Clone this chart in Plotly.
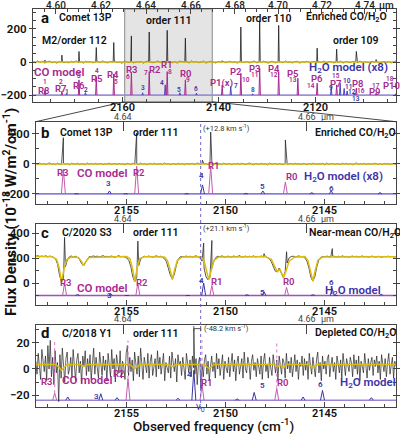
import numpy as np
import plotly.graph_objects as go

C_KMS = 299792.458

# ------------------------------------------------------------------ data
co_names = ["R8", "R7", "R6", "R5", "R4", "R3", "R2", "R1", "R0",
            "P1(x)", "P2", "P3", "P4", "P5", "P6", "P7", "P8", "P9", "P10"]
co_number = ["1", "2", "3", "4", "5", "6", "7", "8", "9", "",
             "10", "11", "12", "13", "14", "15", "16", "17", "18"]
co_rest = [2176.284, 2172.758, 2169.198, 2165.601, 2161.968, 2158.300,
           2154.596, 2150.856, 2147.081, 2139.426, 2135.547, 2131.632,
           2127.683, 2123.699, 2119.681, 2115.629, 2111.543, 2107.423,
           2103.270]
co_peak_a = [12, 42, 64, 88, 118, 158, 182, 192, 145, 8, 212, 248, 222, 0,
             84, 78, 64, 15, 8]
co_model_a = [32, 22, 92, 112, 128, 136, 142, 142, 92, 60, 132, 162, 142,
              102, 72, 62, 42, 12, 10]

h2o_a_label = ["1", "2", "3", "4", "5", "6", "7", "8", "9", "10", "11", "12", "13"]
h2o_a_rest = [2171.78, 2167.85, 2155.97, 2151.27, 2148.22, 2144.77, 2137.65,
              2133.10, 2116.76, 2114.90, 2114.07, 2113.45, 2111.99]
h2o_model_a = [10, 15, 14, 62, 14, 12, 52, 8, 46, 72, 40, 25, 10]

# order 111 window (panels b-d)
o111_co = ["R3", "R2", "R1", "R0"]
co_peak_b = [175, 207, 213, 160]
co_model_b = [165, 185, 185, 80]
co_peak_c = [365, 335, 340, 250]
co_model_c = [100, 100, 80, 65]
co_model_d = [5.5, 16.5, 12, 9]

o111_h2o_label = ["3", "4", "5", "6", "", "", "", "", "", ""]
o111_h2o_rest = [2155.97, 2151.27, 2148.22, 2144.77, 2157.64, 2155.15,
                 2152.07, 2149.08, 2145.75, 2142.30]
h2o_model_b = [20, 60, 20, 20, 3, 3, 3, 4, 9, 9]
h2o_model_c = [15, 100, 30, 55, 8, 3, 3, 6, 6, 10]
h2o_model_d = [5, 23, 6, 7.5, 2.5, 2, 1.5, 1, 2.5, 2]
h2o_peak_b = [0, 25, 0, 0, 0, 0, 0, 0, 0, 0]
h2o_peak_c = [0, 320, 235, 275, 0, 0, 0, 0, 0, 0]
h2o_peak_d = [0, 31, 0, 0, 0, 0, 0, 0, 0, 0]

velocity = {"a": 12.8, "b": 12.8, "c": 21.1, "d": -48.2}   # km/s
model_base = {"a": -200, "b": -200, "c": -100, "d": -24}

# axis tick labels
freq_ticks_a = [2160, 2140, 2120]
freq_ticks_111 = [2155, 2150, 2145]
um_a = [4.60, 4.62, 4.64, 4.66, 4.68, 4.70, 4.72, 4.74]
um_111 = [4.64, 4.66]

# measured spectra
span_a = [2178.7, 2103.2]
span_111 = [2159.6, 2141.4]
noise_a = [3, -5, 6, -2, 4, -7, 2, 5, -4, 1, -6, 3, 7, -3, 0, -5, 4, -2, 6, -4,
           2, -6, 5, -1, 3, -5, 1, 4, -3, 6, -2, -5, 3, 0, 5, -4, 2, -7, 4, 1,
           -3, 6, -5, 2, -1, 4, -6, 3, 5, -2, -4, 1, 6, -3, 2, -5, 4, 0, -4, 3,
           -6, 5, 2, -3, 1, -5, 6, -2, 3, -4, 0, 5, -6, 2, 4, -1, -5, 3, -2, 6,
           -4, 1, 5, -3, 2, -6, 4, 0, -2, 3, -5, 1, 6, -4, 2, -3, 5, -1, -6, 4,
           2, -5, 3, 0, -4, 6, -2, 1, -5, 3, 4, -6, 2, -1, 5, -3, 0, 4, -5, 2,
           -3, 6, -4, 1, 3, -5, 2, -2, 5, -6, 3, 1, -4, 4, -1, -5, 6, -3, 2, 0,
           -4, 5, -2, 3, -6, 1, 4, -3, 2, -5, 3, 1]
flux_b = [4, -3, 6, -1, 3, -5, 2, 7, -2, 1, -4, 5, 0, -3, 6, -2, 3, -6, 4, 1,
          -2, 5, -4, 2, 0, -5, 6, -1, 3, -3, 5, -2, 1, 4, -5, 2, -1, 6, -3, 0,
          3, -4, 5, -2, 1, -6, 4, 2, -3, 5, -1, 0, -4, 6, -2, 3, -5, 1, 4, -2,
          5, -3, 0, 2, -4, 6, -1, 3, -5, 2, 1, -3, 5, -2, 4, -6, 3, 0, -1, 5,
          -4, 2, 6, -3, 1, -2, 4, -5, 3, 0, -1, 5, -3, 2, -4, 6, -2, 1, 3, -5,
          2, -1, 4, -3, 5, 0, -4, 2, 6, -2, -5, 3, 1, -3, 4, -1, 2, -6, 5, 0,
          -2, 4, -4, 3, 1, -5, 6, -2, 0, 3, -3, 5, -1, 2, -4, 4, 1, -6, 3, -2,
          5, 0, -3, 2, -1, 4, -5, 6, -2, 1, 3, -4, 2, 0, -3, 5, -1, 4, -2, 3,
          -5, 1, 6, -3, 2, -1, 4, -4, 3, 0, -2, 5, 1, -3, 2, -5, 4, -1, 3, -2,
          0, 4, -3]
flux_c = [214, 220, 208, 216, 211, 218, 209, 215, 212,
          206, 190, 150, 60, 8, 40, 130, 190, 210,
          216, 208, 214,
          205, 190, 160, 138, 165, 195, 212,
          209, 217, 211, 215, 207, 213, 219, 210, 214, 208, 216, 212, 205, 214, 218, 209, 213, 207,
          200, 180, 130, 50, 10, 45, 140, 190, 208,
          214, 209, 216, 211, 206, 213, 217, 210, 214, 205,
          195, 170, 120, 60, 30, 70, 140, 190, 210,
          213, 208, 216, 210, 214, 207, 212, 218, 209,
          200, 175, 120, 50, 25, 45, 120, 180, 205,
          214, 209, 217, 211, 206, 215, 212, 208, 216, 210, 213, 219, 207, 212, 215, 209, 214,
          210, 217, 208, 213, 211, 216, 207, 212,
          205, 195, 170, 130, 95, 90, 120, 80, 45, 90, 160, 200,
          211, 215, 208, 213, 217, 209, 212,
          200, 175, 120, 45, 15, 50, 130, 185, 205,
          213, 209, 215, 211, 207, 216, 212, 208, 214, 210, 217, 209, 213, 206, 212, 215, 210,
          214, 208, 211, 216, 209, 213, 207, 212, 215, 210, 208, 214, 211, 206, 213, 209, 215,
          210, 212, 208, 211]
flux_d = [6, -4, 12, 1, -8, 15, 3, -2, 10, -9, 18, 0, 22, -6, 9, -12, 14, -3, 5, -25,
          11, -7, 16, 2, -10, 8, 13, -4, 0, 9, -6, 15, 4, -9, 7, 12, -3, 6, -11, 10,
          2, 14, -5, 8, -2, 11, -8, 5, 16, -4, 9, 1, -7, 13, 3, -5, 10, -1, 7, -9,
          12, 4, -6, 15, 0, 8, -10, 11, 5, -3, 14, -7, 6, 2, -8, 12, 18, -5, 9, -2,
          7, -9, 13, 3, -4, 10, -6, 16, 1, -8, 9, 4, -3, 12, -7, 6, 11, -5, 2, 8,
          -6, 14, 0, 9, -4, 7, 12, -9, 5, 1, -3, 10, -7, 13, 4, -2, 8, -10, 11, 3,
          6, -5, 9, 2, -8, 12, 4, -3, 7, -6, 10, 1, -4, 8, -12, 5, 9, -15, 3, -6,
          7, 11, -4, 6, -9, 2, 10, -2, 5, -7, 12, 0, 8, -5, 3, 11, -8, 6, 1, -3,
          9, -6, 4, 12, -2, 7, -9, 5, 10, -4, 2, 8, -7, 13, 0, -3, 9, 4, -8, 6,
          11, -1, 5, -6, 8, 3, -4, 10, -8, 6, 12, -2, 4, -7, 9, 1, -5, 11, 3, -3,
          7, -9, 10, 2, -4, 8, 5, -7, 12, 0, 6, -3, 9, -6, 4, 11, -2, 7, -8, 5,
          2, 10, -5, 8, -1, 6, -8, 12, 3, -4, 9, 1, -6, 7, 13, -3, 5, -9, 10, 0,
          6, -4, 8, 11, -6, 3, 9, -2, 5, -8, 10, 4, -3, 7, -7, 12, 1, -5, 8, 3,
          -2, 9, 5, -6, 11, 0, 7, -4, 10, -9, 6, 2, -3, 12, 4, -7, 8, -1, 5, 9,
          -5, 7, 2, 10, -3, 6, -8, 11, 4, -2, 8, -6, 5, 12, -4, 3, 9, -7, 6, 2]

# fitted (yellow) models
fit_a_nu = [2178.7, 2103.2]
fit_a = [0, 0]
fit_b_nu = [2159.6, 2141.4]
fit_b = [0, 0]
fit_c_nu = [2159.6, 2158.8, 2158.55, 2158.42, 2158.3, 2158.18, 2158.05, 2157.8,
            2157.45, 2157.3, 2157.18, 2157.05, 2156.9, 2155.0,
            2154.85, 2154.72, 2154.6, 2154.48, 2154.35, 2154.1,
            2153.1, 2152.95, 2152.82, 2152.7, 2152.58, 2152.45, 2152.2,
            2151.25, 2151.1, 2150.98, 2150.86, 2150.74, 2150.6, 2150.35,
            2148.0, 2147.7, 2147.52, 2147.4, 2147.27, 2147.2, 2147.08, 2146.95, 2146.8, 2146.5,
            2146.0, 2145.85, 2145.72, 2145.6, 2145.48, 2145.35, 2145.1, 2141.4]
fit_c = [214, 211, 190, 120, 8, 110, 185, 209,
         205, 175, 138, 175, 205, 212,
         195, 120, 10, 120, 195, 211,
         208, 180, 110, 30, 110, 180, 208,
         210, 180, 100, 25, 100, 180, 209,
         211, 190, 130, 90, 110, 85, 45, 100, 175, 208,
         211, 180, 100, 15, 100, 180, 209, 211]
fit_d_nu = [2159.6, 2158.6, 2158.4, 2158.3, 2158.2, 2158.0, 2157.35, 2157.18, 2157.0,
            2154.85, 2154.7, 2154.6, 2154.5, 2154.35, 2152.9, 2152.7, 2152.5,
            2151.1, 2150.95, 2150.86, 2150.75, 2150.6, 2147.6, 2147.4, 2147.25,
            2147.08, 2146.9, 2145.8, 2145.6, 2145.4, 2141.4]
fit_d = [3.5, 3.5, 1.0, -1.0, 1.0, 3.5, 3.5, 2.0, 3.5,
         3.5, 1.5, 0.5, 1.5, 3.5, 3.5, 1.8, 3.5,
         3.5, 1.5, 0.5, 1.5, 3.5, 3.5, 2.0, 3.0,
         1.0, 3.5, 3.5, 1.0, 3.5, 3.5]

# ------------------------------------------------------------------ helpers
W, H = 400, 434
FONT = "Roboto"
MAG = "#a8288f"
BLUE = "#3b34a6"
YEL = "#dcbc10"
DARK = "#1c1c1c"


def px(x):
    return x / W


def py(y):
    return 1 - y / H


def shifted(nus, v):
    return [n * (1 - v / C_KMS) for n in nus]


def model_xy(nus, hs, base, w):
    xs, ys = [], []
    for n, h in zip(nus, hs):
        if h <= 0:
            continue
        xs += [n - w, n, n + w, None]
        ys += [base, base + h, base, None]
    return xs, ys


def spectrum_xy(grid, vals, pk_nu, pk_h, w=None):
    pts = list(zip(grid, vals))
    for n, h in zip(pk_nu, pk_h):
        if h <= 0:
            continue
        pts.append((n, h))
        if w:
            pts += [(n - w, 0), (n + w, 0)]
    pts.sort(key=lambda t: -t[0])
    return [p[0] for p in pts], [p[1] for p in pts]


co_lookup = dict(zip(co_names, co_rest))
o111_co_rest = [co_lookup[n] for n in o111_co]

fig = go.Figure()


def line(x, y, color, width, xa, ya, dash=None):
    fig.add_trace(go.Scatter(x=x, y=y, mode="lines", xaxis=xa, yaxis=ya,
                             line=dict(color=color, width=width, dash=dash),
                             showlegend=False, hoverinfo="skip",
                             connectgaps=False))


# ---------------- panel a
va = velocity["a"]
ba = model_base["a"]
line(span_a, [ba, ba], "#9d90d8", 1.6, "x", "y")
hx, hy = model_xy(shifted(h2o_a_rest, va), h2o_model_a, ba, 0.14)
line(hx, hy, "#4c44c0", 1.0, "x", "y")
cx, cy = model_xy(shifted(co_rest, va), co_model_a, ba, 0.14)
line(cx, cy, MAG, 1.0, "x", "y")
grid_a = np.linspace(span_a[0], span_a[1], len(noise_a))
sx, sy = spectrum_xy(grid_a, noise_a, shifted(co_rest, va), co_peak_a, w=0.12)
line(sx, sy, DARK, 0.8, "x", "y")
line(fit_a_nu, fit_a, YEL, 1.4, "x", "y")

# ---------------- panels b, c, d
panels = [
    ("b", "x2", "y2", flux_b, co_peak_b, h2o_peak_b, co_model_b, h2o_model_b,
     fit_b_nu, fit_b, "#5a4fc6"),
    ("c", "x3", "y3", flux_c, co_peak_c, h2o_peak_c, co_model_c, h2o_model_c,
     fit_c_nu, fit_c, "#9a55b8"),
    ("d", "x4", "y4", flux_d, [0, 0, 0, 0], h2o_peak_d, co_model_d, h2o_model_d,
     fit_d_nu, fit_d, "#9c86d4"),
]
for key, xa, ya, flux, cpk, hpk, cmod, hmod, fnu, fval, basecol in panels:
    v = velocity[key]
    b = model_base[key]
    grid = np.linspace(span_111[0], span_111[1], len(flux))
    line(span_111, [b, b], basecol, 1.3, xa, ya)
    hx, hy = model_xy(shifted(o111_h2o_rest, v), hmod, b, 0.1)
    line(hx, hy, BLUE, 1.0, xa, ya)
    cx, cy = model_xy(shifted(o111_co_rest, v), cmod, b, 0.1)
    line(cx, cy, "#c45cb0", 1.0, xa, ya)
    sx, sy = spectrum_xy(list(grid), flux,
                         shifted(o111_co_rest, v) + shifted(o111_h2o_rest, v),
                         cpk + hpk)
    line(sx, sy, "#2a2a2a" if key != "d" else "#222", 0.8 if key != "d" else 0.7,
         xa, ya)
    line(fnu, fval, YEL, 1.5, xa, ya)

# dummy traces so the top (wavelength) axes render
for xa, ya, sp in [("x5", "y", span_a), ("x6", "y2", span_111),
                   ("x7", "y3", span_111), ("x8", "y4", span_111)]:
    fig.add_trace(go.Scatter(x=sp, y=[0, 0], xaxis=xa, yaxis=ya, mode="markers",
                             marker=dict(opacity=0), showlegend=False,
                             hoverinfo="skip"))

# ------------------------------------------------------------------ axes
frames = {"a": (33, 398, 9, 101.7), "b": (36, 398, 121.7, 204),
          "c": (36, 398, 224, 305), "d": (36, 398, 325, 407)}
yranges = {"a": [-240, 321], "b": [-267, 282], "c": [-176, 472], "d": [-29.2, 33.8]}
ydt = {"a": (200, 50), "b": (200, 100), "c": (200, 100), "d": (20, 10)}

tickfont = dict(family=FONT, size=11.5, color="#111", weight=600)
layout = dict(width=W, height=H, margin=dict(l=0, r=0, t=0, b=0),
              paper_bgcolor="white", plot_bgcolor="rgba(0,0,0,0)",
              autosize=False)

ann = []


def T(text, x, y, size=10.5, color="#111", weight=600, **kw):
    d = dict(text=text, x=px(x), y=py(y), xref="paper", yref="paper",
             showarrow=False, xanchor="center", yanchor="middle",
             font=dict(family=FONT, size=size, color=color, weight=weight))
    d.update(kw)
    ann.append(d)


def TX(text, xval, xref, y, size, color, weight):
    ann.append(dict(text=text, x=xval, y=py(y), xref=xref, yref="paper",
                    showarrow=False, xanchor="center", yanchor="middle",
                    font=dict(family=FONT, size=size, color=color, weight=weight)))


bottom_lab_y = {"a": 107, "b": 211, "c": 311, "d": 413}
top_lab_y = {"a": 5, "b": 117, "c": 219, "d": 319}

for i, key in enumerate(["a", "b", "c", "d"]):
    sfx = "" if i == 0 else str(i + 1)
    x0, x1, y0, y1 = frames[key]
    xr = span_a if key == "a" else span_111
    xdt = 20 if key == "a" else 5
    xminor = 5 if key == "a" else 1
    layout["xaxis" + sfx] = dict(
        domain=[px(x0), px(x1)], anchor="y" + sfx, range=xr,
        showline=True, linecolor="#444", linewidth=1, mirror=True,
        ticks="inside", ticklen=5, tickcolor="#444", tickmode="linear",
        tick0=2100, dtick=xdt, showgrid=False, zeroline=False,
        showticklabels=False,
        minor=dict(dtick=xminor, tick0=2100, ticks="inside", ticklen=3,
                   tickcolor="#444"))
    dt, mdt = ydt[key]
    layout["yaxis" + sfx] = dict(
        domain=[py(y1), py(y0)], anchor="x" + sfx, range=yranges[key],
        showline=True, linecolor="#444", linewidth=1, mirror="ticks",
        ticks="outside", ticklen=3, tickcolor="#444", tickmode="linear",
        tick0=0, dtick=dt, showgrid=False, zeroline=False,
        tickfont=tickfont,
        minor=dict(dtick=mdt, tick0=0, ticks="inside", ticklen=3,
                   tickcolor="#444"))
    # top wavelength axis
    ums = um_a if key == "a" else um_111
    top = dict(overlaying="x" + sfx, anchor="y" + sfx, side="top", range=xr,
               tickmode="array", tickvals=[1e4 / u for u in ums],
               ticks="inside", ticklen=5 if key == "a" else 9, tickcolor="#444",
               showline=False, showgrid=False, zeroline=False,
               showticklabels=False)
    if key == "a":
        top["minor"] = dict(tickmode="array",
                            tickvals=[1e4 / (4.595 + 0.005 * k) for k in range(32)],
                            ticks="inside", ticklen=3, tickcolor="#444")
    layout["xaxis" + str(i + 5)] = top

    # tick labels as text
    fticks = freq_ticks_a if key == "a" else freq_ticks_111
    for f in fticks:
        TX(str(f), f, "x" + sfx, bottom_lab_y[key], 11, "#111", 600)
    for u in ums:
        if key == "a":
            TX("%.2f" % u, 1e4 / u, "x" + sfx, top_lab_y[key], 10, "#222", 500)
        else:
            TX("%.2f" % u, 1e4 / u, "x" + sfx, top_lab_y[key], 9, "#444", 400)

# ------------------------------------------------------------------ shapes
shapes = []
shapes.append(dict(type="rect", xref="x", yref="y domain", x0=span_111[0],
                   x1=span_111[1], y0=0, y1=1, fillcolor="#e4e4e4",
                   line=dict(color="#8a8a8a", width=1), layer="below"))
shapes.append(dict(type="line", xref="paper", yref="paper", x0=px(125),
                   y0=py(101.7), x1=px(36), y1=py(121.7),
                   line=dict(color="#333", width=0.9)))
shapes.append(dict(type="line", xref="paper", yref="paper", x0=px(213),
                   y0=py(101.7), x1=px(398), y1=py(121.7),
                   line=dict(color="#333", width=0.9)))
v0 = o111_h2o_rest[1]
shapes.append(dict(type="line", xref="x2", yref="paper", x0=v0, x1=v0,
                   y0=py(409), y1=py(121.7),
                   line=dict(color="#6b63c9", width=1, dash="dot")))
# pink guides in panel d
vd = velocity["d"]
for n, h in zip(shifted(o111_co_rest, vd), co_model_d):
    shapes.append(dict(type="line", xref="x4", yref="y4", x0=n, x1=n,
                       y0=model_base["d"] + h, y1=22,
                       line=dict(color="#d77ac8", width=1, dash="dot")))
# velocity bracket in panel d
h4d = shifted([v0], vd)[0]
shapes.append(dict(type="line", xref="x4", yref="y4", x0=h4d, x1=v0, y0=31, y1=31,
                   line=dict(color="#555", width=1)))
for xx in (h4d, v0):
    shapes.append(dict(type="line", xref="x4", yref="y4", x0=xx, x1=xx, y0=29,
                       y1=33, line=dict(color="#555", width=1)))
layout["shapes"] = shapes

# ------------------------------------------------------------------ text
H2O = "H<sub>2</sub>O"
# panel a
T("a", 45, 18, 15, weight=700)
T("Comet 13P", 86, 17)
T("order 111", 170, 21)
T("order 110", 270, 18)
T("Enriched CO/" + H2O, 348, 17)
T("M2/order 112", 75, 40)
T("order 109", 358, 40)
T("CO model", 59, 72, 11.5, MAG)
T(H2O + " model (x8)", 350, 67, 11.5, BLUE)
T("µm", 388, 5, 10, "#222", 500)
a_lab = [(44, 90), (61, 89), (79, 85), (97, 79), (114, 74), (132, 69), (156, 70),
         (167, 65), (186, 73), (223, 83), (237, 72), (256, 68), (275, 68),
         (294, 73), (319, 79), (338, 83), (360, 83), (377, 92), (393, 85)]
a_num = [(45, 82), (61, 82), (79, 76), (97, 71), (117, 82), (129, 77), (147, 73),
         (171, 72), (189, 80), None, (247, 80), (256, 75), (275, 75), (294, 80),
         (313, 86), (338, 76), (363, 91), (378, 86), (392, 79)]
for name, num, p, q in zip(co_names, co_number, a_lab, a_num):
    T(name, p[0], p[1], 9.5, MAG)
    if q and num:
        T(num, q[0], q[1], 6.5, MAG)
a_h2o = [(67, 92), (86, 90), (144, 88), (163, 83), (180, 90), (197, 89),
         (237, 86), (254, 90), (333, 88), (349, 81), (350, 87), (354, 92), (358, 99)]
for lab, p in zip(h2o_a_label, a_h2o):
    T(lab, p[0], p[1], 6.5, BLUE)

# panels b, c, d
titles = {"b": ("Comet 13P", "(+12.8 km s<sup>-1</sup>)", "Enriched CO/" + H2O, H2O + " model (x8)"),
          "c": ("C/2020 S3", "(+21.1 km s<sup>-1</sup>)", "Near-mean CO/" + H2O, H2O + " model"),
          "d": ("C/2018 Y1", "(-48.2 km s<sup>-1</sup>)", "Depleted CO/" + H2O, H2O + " model")}
top_y = {"b": 133, "c": 233, "d": 333}
for key in ["b", "c", "d"]:
    y = top_y[key]
    name, vel, ratio, hm = titles[key]
    T(key, 45, y, 15, weight=700)
    T(name, 87, y)
    T("order 111", 157, y)
    T(vel, 228, y - 5, 7.5, "#333", 400)
    T(ratio, 357, y)
    T("µm", 329, top_lab_y[key], 9, "#444", 400)

lab_pos = {
    "b": dict(co=[(63, 172), (140, 172), (215, 165), (293, 177)], com=(103, 173),
              h2o=[(109, 183), (203, 175), (264, 186), (333, 188)], hm=(345, 176)),
    "c": dict(co=[(66, 282), (143, 282), (218, 281), (290, 281)], com=(103, 288),
              h2o=[(110, 295), (203, 280), (264, 292), (333, 282)], hm=(355, 290)),
    "d": dict(co=[(47, 381), (120, 373), (208, 382), (284, 382)], com=(87, 380),
              h2o=[(97, 396), (190, 374), (264, 385), (322, 384)], hm=(370, 382)),
}
for key, lp in lab_pos.items():
    for name, p in zip(o111_co, lp["co"]):
        T(name, p[0], p[1], 9.5, MAG)
    T("CO model", lp["com"][0], lp["com"][1], 11.5, MAG)
    for lab, p in zip(o111_h2o_label, lp["h2o"]):
        T(lab, p[0], p[1], 8, BLUE)
    T(titles[key][3], lp["hm"][0], lp["hm"][1], 11.5, BLUE)

ann.append(dict(text="ν<sub>0</sub>", x=v0, y=py(416), xref="x4", yref="paper",
                showarrow=False, font=dict(family=FONT, size=10, color=BLUE)))
T("Observed frequency (cm<sup>-1</sup>)", 215, 425, 13.5, "#111", 500)
T("Flux Density (10<sup>-18</sup> W/m<sup>2</sup>/cm<sup>-1</sup>)", 10, 212, 15,
  "#111", 700, textangle=-90)
layout["annotations"] = ann

fig.update_layout(**layout)
fig.write_html("out.html")
